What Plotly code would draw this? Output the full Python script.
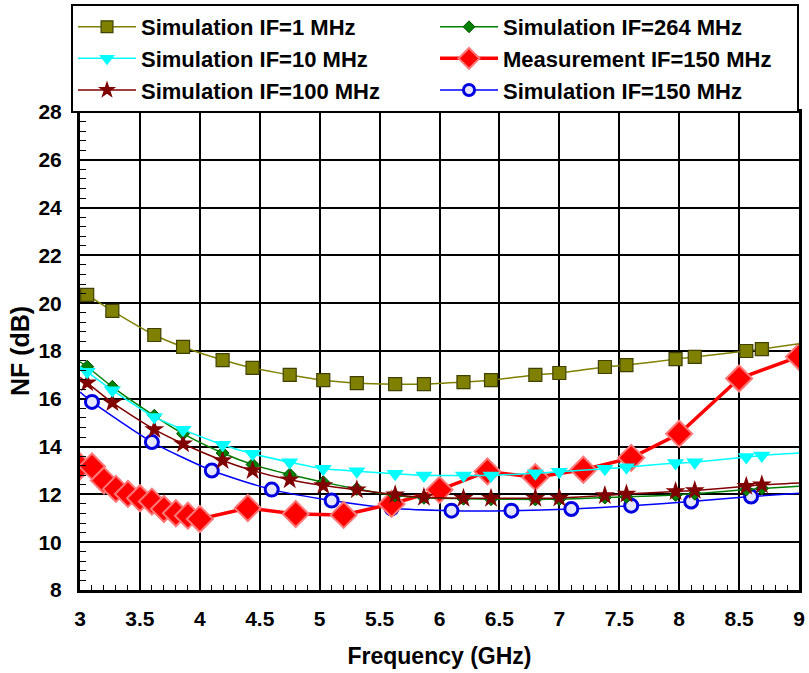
import plotly.graph_objects as go

# Frequency points (GHz) where the simulation markers sit
f_sim = [3.06, 3.27, 3.62, 3.86, 4.19, 4.44, 4.75, 5.03, 5.31, 5.63, 5.87,
         6.2, 6.43, 6.8, 7.0, 7.38, 7.56, 7.97, 8.13, 8.56, 8.69]
# Curve end points (line only, no marker)
f_start, f_end = 3.0, 9.0

nf_if1 = [20.35, 19.68, 18.67, 18.17, 17.62, 17.29, 17.0, 16.78, 16.66, 16.61, 16.61,
          16.70, 16.78, 17.0, 17.08, 17.33, 17.41, 17.66, 17.75, 18.0, 18.08]
nf_if1_ends = [20.55, 18.3]

nf_if10 = [17.13, 16.36, 15.24, 14.71, 14.08, 13.70, 13.35, 13.07, 12.97, 12.86, 12.79,
           12.79, 12.79, 12.89, 12.95, 13.07, 13.14, 13.31, 13.35, 13.56, 13.63]
nf_if10_ends = [17.35, 13.73]

nf_if100 = [16.67, 15.84, 14.72, 14.12, 13.42, 13.0, 12.61, 12.37, 12.19, 11.99, 11.88,
            11.84, 11.84, 11.84, 11.85, 11.95, 12.02, 12.12, 12.16, 12.34, 12.40]
nf_if100_ends = [16.9, 12.48]

nf_if264 = [17.34, 16.5, 15.29, 14.54, 13.73, 13.25, 12.83, 12.51, 12.23, 11.95, 11.86,
            11.82, 11.80, 11.79, 11.80, 11.87, 11.90, 11.98, 12.03, 12.20, 12.25]
nf_if264_ends = [17.55, 12.34]

f_sim150 = [3.1, 3.6, 4.1, 4.6, 5.1, 5.6, 6.1, 6.6, 7.1, 7.6, 8.1, 8.6]
nf_sim150 = [15.87, 14.19, 13.0, 12.2, 11.74, 11.42, 11.32, 11.32, 11.39, 11.53, 11.7, 11.91]
nf_sim150_ends = [16.28, 12.05]

f_meas = [3.0, 3.1, 3.2, 3.3, 3.4, 3.5, 3.6, 3.7, 3.8, 3.9, 4.0, 4.4, 4.8, 5.2,
          5.6, 6.0, 6.4, 6.8, 7.2, 7.6, 8.0, 8.5, 9.0]
nf_meas = [13.17, 13.17, 12.58, 12.23, 12.02, 11.84, 11.70, 11.39, 11.21, 11.11, 10.97,
           11.43, 11.18, 11.14, 11.60, 12.19, 12.96, 12.72, 13.03, 13.53, 14.54, 16.85, 17.76]

x_ticks = [3, 3.5, 4, 4.5, 5, 5.5, 6, 6.5, 7, 7.5, 8, 8.5, 9]
y_ticks = [8, 10, 12, 14, 16, 18, 20, 22, 24, 26, 28]

FONT = "Liberation Sans, Arial, sans-serif"


def with_ends(xs, ys, ends):
    return [f_start] + xs + [f_end], [ends[0]] + ys + [ends[1]]


def sim_trace(name, xs, ys, ends, color, symbol, size, rank, fill=None, mline=None):
    fx, fy = with_ends(xs, ys, ends)
    # the two curve end points carry no visible marker
    sizes = [0] + [size] * len(xs) + [0]
    marker = dict(symbol=symbol, size=sizes, color=fill or color, opacity=1,
                  line=mline or dict(width=0))
    return go.Scatter(
        x=fx, y=fy, name=name, mode="lines+markers",
        line=dict(color=color, width=1.5, shape="spline", smoothing=0.6),
        marker=marker, legendrank=rank,
    )


fig = go.Figure()

fig.add_trace(sim_trace("Simulation IF=150 MHz", f_sim150, nf_sim150, nf_sim150_ends,
                        "#0000FF", "circle", 13, 6, fill="#E6E6FF",
                        mline=dict(color="#0000E0", width=3)))

fig.add_trace(go.Scatter(
    x=f_meas, y=nf_meas, name="Measurement IF=150 MHz", mode="lines+markers",
    line=dict(color="#FF0000", width=3.5),
    marker=dict(symbol="diamond", size=20, color="#FF0000", opacity=1,
                line=dict(color="#FF7878", width=2)),
    legendrank=4,
))

fig.add_trace(sim_trace("Simulation IF=264 MHz", f_sim, nf_if264, nf_if264_ends,
                        "#008000", "diamond", 10, 2,
                        mline=dict(color="#005000", width=1)))
fig.add_trace(sim_trace("Simulation IF=100 MHz", f_sim, nf_if100, nf_if100_ends,
                        "#800000", "star", 15, 5))
fig.add_trace(sim_trace("Simulation IF=10 MHz", f_sim, nf_if10, nf_if10_ends,
                        "#00FFFF", "triangle-down", 15, 3))
fig.add_trace(sim_trace("Simulation IF=1 MHz", f_sim, nf_if1, nf_if1_ends,
                        "#808000", "square", 13, 1,
                        mline=dict(color="#404000", width=1.2)))

axis_common = dict(
    showgrid=True, gridcolor="black", gridwidth=1.5,
    showline=True, linecolor="black", linewidth=3, mirror=True,
    ticks="inside", ticklen=6, tickwidth=1.5, tickcolor="black",
    tickfont=dict(family=FONT, size=21, color="black", weight="bold"),
    zeroline=False,
)

fig.update_xaxes(
    range=[3, 9], tickvals=x_ticks, ticktext=[f"{v:g}" for v in x_ticks],
    minor=dict(dtick=0.1, tick0=3, ticks="inside", ticklen=5, tickwidth=1.2,
               tickcolor="black", showgrid=False),
    ticklabelstandoff=8,
    title=dict(text="Frequency (GHz)", standoff=19,
               font=dict(family=FONT, size=23, color="black", weight="bold")),
    **axis_common,
)
fig.update_yaxes(
    range=[8, 28], tickvals=y_ticks, ticktext=[str(v) for v in y_ticks],
    minor=dict(dtick=0.4, tick0=8, ticks="inside", ticklen=6, tickwidth=1.2,
               tickcolor="black", showgrid=False),
    ticklabelstandoff=11,
    title=dict(text="NF (dB)", standoff=2,
               font=dict(family=FONT, size=25, color="black", weight="bold")),
    **axis_common,
)

fig.update_layout(
    width=809, height=673,
    margin=dict(l=80, r=10, t=112, b=83, autoexpand=False),
    paper_bgcolor="white", plot_bgcolor="white",
    font=dict(family=FONT, color="black"),
    legend=dict(
        orientation="h", x=-0.0125, xanchor="left", y=1.226, yanchor="top",
        entrywidth=289, entrywidthmode="pixels", itemwidth=58,
        bgcolor="white", bordercolor="black", borderwidth=2,
        font=dict(family=FONT, size=22, color="black", weight="bold"),
        traceorder="normal",
    ),
    showlegend=True,
)

fig.write_html("out.html")
